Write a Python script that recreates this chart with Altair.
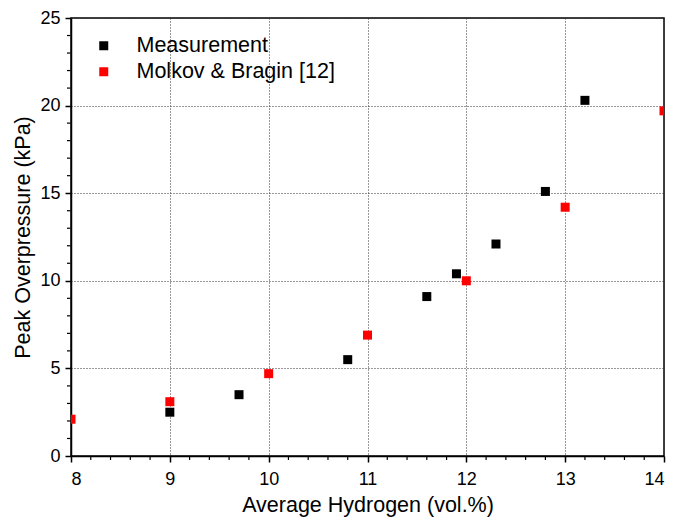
import altair as alt
import pandas as pd

meas_x = [9.0, 9.7, 10.8, 11.6, 11.9, 12.3, 12.8, 13.2]
meas_y = [2.5, 3.5, 5.5, 9.1, 10.4, 12.1, 15.1, 20.3]
mb_x = [8, 9, 10, 11, 12, 13, 14]
mb_y = [2.1, 3.1, 4.7, 6.9, 10.0, 14.2, 19.7]
series = ["Measurement", "Molkov & Bragin [12]"]
colors = ["#000000", "#ff0000"]

x_major = [8, 9, 10, 11, 12, 13, 14]
y_major = [0, 5, 10, 15, 20, 25]
x_minor = [round(8 + 0.2 * i, 1) for i in range(31) if i % 5 != 0]
y_minor = [v for v in range(0, 26) if v % 5 != 0]

df = pd.DataFrame({
    "x": meas_x + mb_x,
    "y": meas_y + mb_y,
    "s": [series[0]] * len(meas_x) + [series[1]] * len(mb_x),
})
df_xminor = pd.DataFrame({"x": x_minor})
df_yminor = pd.DataFrame({"y": y_minor})

FONT = "Liberation Sans"
FS = 21.5   # titles and legend
LFS = 18    # tick labels
xs = alt.Scale(domain=[8, 14], nice=False, zero=False)
ys = alt.Scale(domain=[0, 25], nice=False, zero=False)

main = alt.Chart(df).mark_point(shape="square", filled=True, size=81, opacity=1, clip=True).encode(
    x=alt.X("x:Q", scale=xs, axis=alt.Axis(
        orient="bottom", values=x_major, title="Average Hydrogen (vol.%)", format="d",
        grid=True, gridDash=[1, 2], gridColor="#333333", gridWidth=1,
        tickSize=6, tickColor="#000000", tickWidth=1.5,
        domainColor="#000000", domainWidth=1.5,
        labelFont=FONT, labelFontSize=LFS, labelColor="#000000", labelPadding=8,
        titleFont=FONT, titleFontSize=FS, titleFontWeight="normal", titleColor="#000000", titlePadding=6)),
    y=alt.Y("y:Q", scale=ys, axis=alt.Axis(
        orient="left", values=y_major, title="Peak Overpressure (kPa)", format="d",
        grid=True, gridDash=[1, 2], gridColor="#333333", gridWidth=1,
        tickSize=6, tickColor="#000000", tickWidth=1.5,
        domainColor="#000000", domainWidth=1.5,
        labelFont=FONT, labelFontSize=LFS, labelColor="#000000", labelPadding=5,
        titleFont=FONT, titleFontSize=FS, titleFontWeight="normal", titleColor="#000000", titlePadding=5)),
    color=alt.Color("s:N", scale=alt.Scale(domain=series, range=colors), legend=alt.Legend(
        title=None, orient="none", legendX=22, legendY=17,
        labelFont=FONT, labelFontSize=FS, labelColor="#000000", labelLimit=0,
        symbolType="square", symbolSize=81, symbolStrokeWidth=0, labelOffset=22,
        rowPadding=3, padding=0)),
)

xminor = alt.Chart(df_xminor).mark_rule(color="#000000", strokeWidth=1.2).encode(
    x=alt.X("x:Q", scale=xs),
    y=alt.value(438.75),
    y2=alt.value(442),
)
yminor = alt.Chart(df_yminor).mark_rule(color="#000000", strokeWidth=1.2).encode(
    y=alt.Y("y:Q", scale=ys),
    x=alt.value(-0.75),
    x2=alt.value(-4),
)

chart = alt.layer(main, xminor, yminor).properties(
    width=593, height=438,
    autosize=alt.AutoSizeParams(type="none"),
    padding={"left": 63, "top": 10, "right": 4, "bottom": 65},
).configure_view(stroke="#000000", strokeWidth=1.5)

chart.save("out.html", embed_options={"renderer": "svg", "actions": False})
